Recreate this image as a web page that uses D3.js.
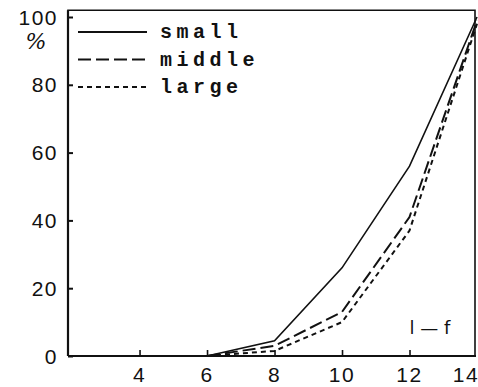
<!DOCTYPE html>
<html><head><meta charset="utf-8">
<script src="https://cdn.jsdelivr.net/npm/d3@7"></script>
<style>body{margin:0;background:#fff}svg{display:block}</style>
</head><body><svg id="c" width="478" height="387"></svg>
<script>
const xValues = [6, 8, 10, 12, 14];
const smallVals = [0, 4.5, 26, 56, 100];
const middleVals = [0, 3, 13, 41, 99];
const largeVals = [0, 1.5, 10, 37, 98];
const seriesNames = ["small", "middle", "large"];
const xTicks = [4, 6, 8, 10, 12, 14];
const yTicks = [0, 20, 40, 60, 80, 100];

const svg = d3.select("#c");
const x = d3.scaleLinear().domain([1.88, 14]).range([68, 477]);
const y = d3.scaleLinear().domain([0, 100]).range([356, 17]);
const ink = "#111";

// frame
svg.append("path")
  .attr("d", `M${x(1.88)},${y(0)} L${x(1.88)},${y(102)} L475,${y(102)} L475,${y(0)}`)
  .attr("fill", "none").attr("stroke", ink).attr("stroke-width", 1.6);
svg.append("line").attr("x1", x(1.88)).attr("x2", 476).attr("y1", y(0)).attr("y2", y(0))
  .attr("stroke", ink).attr("stroke-width", 2);
svg.append("line").attr("x1", x(1.88)).attr("x2", x(1.88)).attr("y1", y(0)).attr("y2", y(102))
  .attr("stroke", ink).attr("stroke-width", 2.2);

// y axis
const yAxis = d3.axisRight(y).tickValues(yTicks).tickSize(5).tickFormat("");
const gy = svg.append("g").attr("transform", `translate(${x(1.88)},0)`).call(yAxis);
gy.select(".domain").remove();
gy.selectAll(".tick line").attr("stroke", ink).attr("stroke-width", 2);
yTicks.forEach(v => {
  svg.append("text").attr("x", 58).attr("y", y(v)).attr("dy", "0.36em")
    .attr("text-anchor", "end").attr("font-family", "Liberation Sans, Arial, sans-serif")
    .attr("font-size", 21).attr("letter-spacing", 1.5).attr("fill", ink).text(v);
});
svg.append("text").attr("x", 36).attr("y", 49).attr("text-anchor", "middle")
  .attr("font-family", "DejaVu Serif, serif").attr("font-size", 22).attr("font-style", "italic")
  .attr("fill", ink).text("%");

// x axis
const xAxis = d3.axisTop(x).tickValues(xTicks.filter(v => v < 14)).tickSize(6).tickFormat("");
const gx = svg.append("g").attr("transform", `translate(0,${y(0)})`).call(xAxis);
gx.select(".domain").remove();
gx.selectAll(".tick line").attr("stroke", ink).attr("stroke-width", 1.6);
xTicks.forEach(v => {
  svg.append("text").attr("x", v === 14 ? 466 : x(v)).attr("y", 382)
    .attr("text-anchor", "middle").attr("font-family", "Liberation Sans, Arial, sans-serif")
    .attr("font-size", 21).attr("letter-spacing", 1.5).attr("fill", ink).text(v);
});

// lines
const dashes = [null, "13,5", "5,4"];
const allVals = [smallVals, middleVals, largeVals];
const line = d3.line().x(d => x(d[0])).y(d => y(d[1]));
allVals.forEach((vals, i) => {
  svg.append("path").datum(xValues.map((xv, j) => [xv, vals[j]]))
    .attr("d", line).attr("fill", "none").attr("stroke", ink)
    .attr("stroke-width", i === 0 ? 1.6 : 2)
    .attr("stroke-dasharray", dashes[i]);
});

// legend
seriesNames.forEach((name, i) => {
  const ly = 32 + i * 27.5;
  svg.append("line").attr("x1", 78).attr("x2", 147).attr("y1", ly).attr("y2", ly)
    .attr("stroke", ink).attr("stroke-width", 1.8).attr("stroke-dasharray", dashes[i]);
  svg.append("text").attr("x", 160).attr("y", ly).attr("dy", "0.32em")
    .attr("font-family", "Liberation Mono, Courier New, monospace").attr("font-weight", "bold")
    .attr("font-size", 20).attr("letter-spacing", 4.5).attr("fill", ink).text(name);
});

// annotation
svg.append("text").attr("x", 430).attr("y", 334).attr("text-anchor", "middle")
  .attr("font-family", "DejaVu Sans, sans-serif").attr("font-size", 18).attr("fill", ink)
  .text("l \u2014 f");
</script></body></html>
